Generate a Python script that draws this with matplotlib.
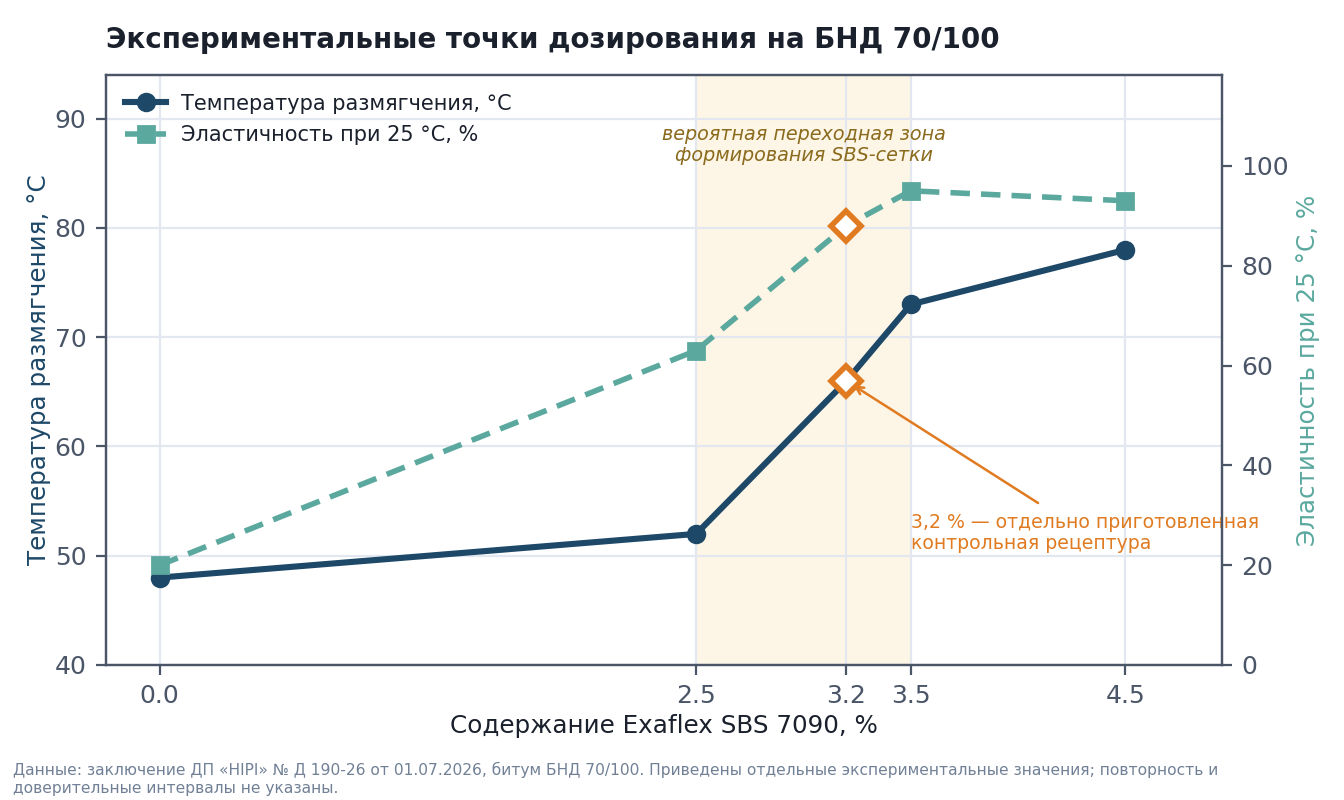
import matplotlib
matplotlib.use("Agg")
import matplotlib.pyplot as plt
from matplotlib.lines import Line2D

dose = [0.0, 2.5, 3.2, 3.5, 4.5]
softening = [48, 52, 66, 73, 78]
elasticity = [20, 63, 88, 95, 93]
xticks = [0.0, 2.5, 3.2, 3.5, 4.5]
control_dose = 3.2
control_soft = 66
control_elast = 88
zone = (2.5, 3.5)

C_SOFT = "#1d4868"
C_EL = "#5aa89e"
C_OR = "#e07b22"
C_AX = "#4a5568"
C_GRID = "#e3e8f0"

plt.rcParams['font.family'] = ['DejaVu Sans']

fig = plt.figure(figsize=(6.72, 4.0), dpi=200)
ax = fig.add_axes([0.0789, 0.16875, 0.8303, 0.7375])
ax2 = ax.twinx()

ax.axvspan(zone[0], zone[1], color="#fdf5e5", zorder=0, lw=0)
ax.set_xlim(-0.25, 4.95)
ax.set_ylim(40, 94)
ax2.set_ylim(0, 118.2)
ax.set_yticks([40, 50, 60, 70, 80, 90])
ax2.set_yticks([0, 20, 40, 60, 80, 100])
ax.set_xticks(xticks)
ax.set_xticklabels([f"{v:.1f}" for v in xticks])
ax.grid(True, color=C_GRID, lw=0.8, zorder=0.5)
ax.set_axisbelow(True)

idx = [0, 1, 3, 4]
ax.plot(dose, softening, color=C_SOFT, lw=2.2, zorder=3)
ax.plot([dose[i] for i in idx], [softening[i] for i in idx], 'o', color=C_SOFT, ms=6, zorder=4)
ax2.plot(dose, elasticity, color=C_EL, lw=2.0, ls=(0, (3.5, 2.0)), zorder=3)
ax2.plot([dose[i] for i in idx], [elasticity[i] for i in idx], 's', color=C_EL, ms=5.5, zorder=4)

ax.plot([control_dose], [control_soft], 'D', ms=7.5, mfc='white', mec=C_OR, mew=2, zorder=6)
ax2.plot([control_dose], [control_elast], 'D', ms=7.5, mfc='white', mec=C_OR, mew=2, zorder=6)

ax.text(3.0, 87.6, "вероятная переходная зона\nформирования SBS-сетки", style='italic',
        color="#8a6a1c", fontsize=6.9, ha='center', va='center', linespacing=1.15)

ax.annotate("3,2 % — отдельно приготовленная\nконтрольная рецептура",
            xy=(control_dose, control_soft), xytext=(3.5, 52.1),
            ha='left', va='center', color=C_OR, fontsize=6.8, linespacing=1.1,
            arrowprops=dict(arrowstyle='->', color=C_OR, lw=0.9, shrinkA=3, shrinkB=3),
            zorder=7)

h1 = Line2D([], [], color=C_SOFT, lw=2.2, marker='o', ms=6)
h2 = Line2D([], [], color=C_EL, lw=2.0, ls=(0, (3.5, 2.0)), marker='s', ms=5.5)
ax.legend([h1, h2], ["Температура размягчения, °C", "Эластичность при 25 °C, %"],
          loc='upper left', frameon=False, fontsize=7.5, handlelength=2.0,
          handletextpad=0.7, borderaxespad=0.5, labelcolor="#1a202c", labelspacing=0.55)

for a in (ax, ax2):
    for s in a.spines.values():
        s.set_color(C_AX)
        s.set_linewidth(0.8)
    a.tick_params(colors=C_AX, labelsize=9, width=0.8, length=3.5)

ax.set_xlabel("Содержание Exaflex SBS 7090, %", fontsize=8.85, color="#1a202c", labelpad=2)
ax.set_ylabel("Температура размягчения, °C", fontsize=8.85, color=C_SOFT, labelpad=1.5)
ax2.set_ylabel("Эластичность при 25 °C, %", fontsize=8.85, color=C_EL, labelpad=2.5)

fig.text(0.0789, 0.95, "Экспериментальные точки дозирования на БНД 70/100",
         fontsize=10, fontweight='bold', color="#1a202c", ha='left', va='center')
fig.text(0.0097, 0.005,
         "Данные: заключение ДП «НІРІ» № Д 190-26 от 01.07.2026, битум БНД 70/100. Приведены отдельные экспериментальные значения; повторность и\n"
         "доверительные интервалы не указаны.",
         fontsize=5.6, color="#718096", ha='left', va='bottom', linespacing=1.25)

fig.savefig("out.png", dpi=200)
